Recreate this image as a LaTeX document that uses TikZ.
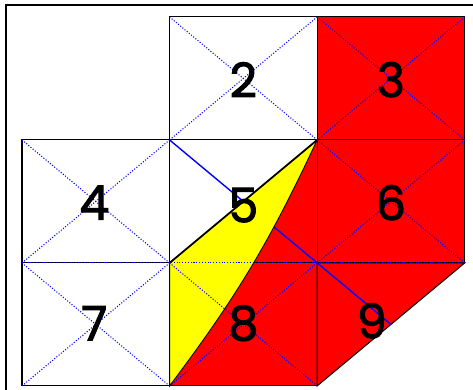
\documentclass[tikz,border=0pt]{standalone}
\usepackage{fontspec}
\newfontfamily\digitfont{Poppins}[UprightFeatures={FakeBold=2.2}]
\usetikzlibrary{positioning}
\definecolor{foldred}{RGB}{255,0,0}
\definecolor{foldyellow}{RGB}{255,255,0}
\tikzset{
  cell line/.style={
    draw=black,
    line width=0.6pt
  },
  fold line/.style={
    blue,
    densely dotted,
    line width=0.6pt
  },
  crease/.style={
    blue,
    line width=0.8pt
  },
  frame line/.style={
    black,
    line width=1.2pt
  },
  cell label/.style={
    inner sep=0pt,
    font=\digitfont\fontsize{27}{27}\selectfont
  }
}

\begin{document}
\begin{tikzpicture}[x=2.952cm, y=2.46cm]
  \useasboundingbox (-0.149,-0.0325) rectangle (3.056,3.138);
  % outer frame, only top and left edges show
  \draw[frame line] (-0.108,-0.2) -- (-0.108,3.098) -- (3.2,3.098);

  % red part of the sheet
  \fill[foldred] (2,3) -- (3,3) -- (3,1) -- (2,0) -- (1,0) to[bend right=6] (2,2) -- cycle;

  % cells
  \foreach \cx/\cy in {1/2,2/2,0/1,1/1,2/1,0/0,1/0}
    \draw[cell line] (\cx,\cy) rectangle ++(1,1);
  \draw[cell line] (2,1) -- (3,1) -- (2,0) -- cycle;

  % crease through cell 5
  \coordinate (cut) at (2.5,0.5);
  \draw[crease] (1,2) -- (cut);

  % yellow flap
  \filldraw[fill=foldyellow, draw=black, line width=0.5pt] (1,1) -- (2,2) to[bend left=6] (1,0) -- cycle;
  \draw[black, line width=1pt] (1,1) -- (2,2);

  % dotted diagonals
  \foreach \cx/\cy in {1/2,2/2,0/1,2/1,0/0,1/0} {
    \draw[fold line] (\cx,\cy) -- ++(1,1);
    \draw[fold line] (\cx+1,\cy) -- ++(-1,1);
  }
  \draw[fold line] (0,1) -- (3,1);

  % labels
  \node[cell label] (n2) at (1.5,2.49) {2};
  \node[cell label] (n3) at (2.5,2.49) {3};
  \node[cell label] (n4) at (0.49,1.49) {4};
  \node[cell label] (n5) at (1.5,1.47) {5};
  \node[cell label] (n6) at (2.5,1.49) {6};
  \node[cell label] (n7) at (0.49,0.51) {7};
  \node[cell label] (n8) at (1.5,0.51) {8};
  \node[cell label] (n9) at (2.37,0.53) {9};
\end{tikzpicture}
\end{document}
